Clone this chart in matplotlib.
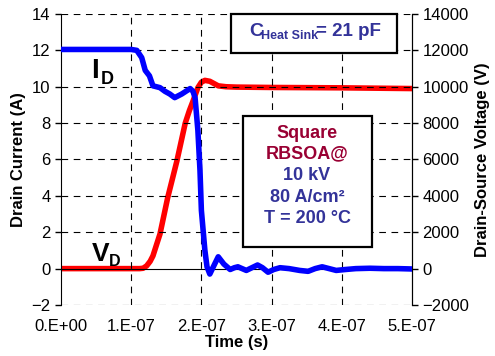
import matplotlib.pyplot as plt
from matplotlib.patches import Rectangle

plt.rcParams['font.family'] = ['Liberation Sans', 'DejaVu Sans']

# drain current I_D (A), left axis
t_id = [0, 0.5e-7, 1.0e-7, 1.08e-7, 1.15e-7, 1.20e-7, 1.26e-7, 1.31e-7, 1.41e-7,
        1.48e-7, 1.55e-7, 1.62e-7, 1.72e-7, 1.80e-7, 1.84e-7, 1.88e-7, 1.91e-7,
        1.95e-7, 1.98e-7, 2.00e-7, 2.05e-7, 2.08e-7, 2.12e-7, 2.17e-7, 2.24e-7, 2.32e-7,
        2.41e-7, 2.47e-7, 2.52e-7, 2.58e-7, 2.64e-7, 2.72e-7, 2.80e-7, 2.87e-7,
        2.95e-7, 3.03e-7, 3.12e-7, 3.25e-7, 3.40e-7, 3.52e-7, 3.62e-7, 3.72e-7,
        3.82e-7, 3.92e-7, 4.05e-7, 4.20e-7, 4.40e-7, 4.60e-7, 4.80e-7, 5.0e-7]
i_d = [12.05, 12.05, 12.05, 12.0, 11.6, 10.9, 10.6, 10.05, 9.95,
       9.75, 9.6, 9.4, 9.6, 9.8, 9.9, 9.75, 9.4,
       7.6, 5.4, 3.2, 1.0, 0.1, -0.3, 0.1, 0.65, 0.25,
       -0.05, 0.05, 0.1, 0.0, -0.1, 0.05, 0.2, 0.05,
       -0.2, -0.05, 0.05, 0.0, -0.1, -0.15, 0.0, 0.1,
       0.0, -0.1, -0.05, 0.0, 0.02, 0.0, 0.0, -0.02]

# drain-source voltage V_D (V), right axis
t_vd = [0, 0.5e-7, 1.0e-7, 1.12e-7, 1.17e-7, 1.22e-7, 1.27e-7, 1.31e-7, 1.41e-7,
        1.52e-7, 1.65e-7, 1.77e-7, 1.83e-7, 1.88e-7, 1.95e-7, 2.00e-7, 2.05e-7,
        2.12e-7, 2.24e-7, 2.35e-7, 2.50e-7, 3.0e-7, 3.5e-7, 4.0e-7, 4.5e-7, 5.0e-7]
v_d = [0, 0, 0, 0, 20, 150, 400, 700, 1900,
       3900, 5900, 8000, 8700, 9200, 9950, 10250, 10350,
       10300, 10050, 10000, 9980, 9960, 9950, 9940, 9920, 9900]

xticks = [0, 1e-7, 2e-7, 3e-7, 4e-7, 5e-7]
xlabels = ['0.E+00', '1.E-07', '2.E-07', '3.E-07', '4.E-07', '5.E-07']

fig = plt.figure(figsize=(4.95, 3.56), dpi=100)
ax = fig.add_axes([0.1232, 0.1433, 0.7091, 0.8174])
ax2 = ax.twinx()

ax.plot(t_id, i_d, color='#0000FF', linewidth=4, solid_capstyle='round',
        solid_joinstyle='round', zorder=4)
ax2.plot(t_vd, v_d, color='#FF0000', linewidth=4, solid_capstyle='round',
         solid_joinstyle='round', zorder=3)
ax.set_zorder(ax2.get_zorder() + 1)
ax.patch.set_visible(False)

ax.set_xlim(0, 5e-7)
ax.set_ylim(-2, 14)
ax2.set_ylim(-2000, 14000)
ax.set_yticks(range(-2, 15, 2))
ax2.set_yticks(range(-2000, 14001, 2000))
ax.set_xticks(xticks)
ax.set_xticklabels(xlabels)

for y in range(-2, 15, 2):
    if y != 0:
        ax.axhline(y, color='black', linestyle=(0, (6, 5)), linewidth=0.8, zorder=0)
ax.axhline(0, color='black', linewidth=0.8, zorder=0)
for x in xticks[1:-1]:
    ax.axvline(x, color='black', linestyle=(0, (6, 5)), linewidth=0.8, zorder=0)

for a in (ax, ax2):
    a.spines['top'].set_visible(False)
    a.spines['bottom'].set_visible(False)
    a.tick_params(labelsize=12, length=4, width=1)
ax.tick_params(axis='x', length=0, pad=10)
ax2.spines['left'].set_visible(False)

ax.set_ylabel('Drain Current (A)', fontsize=12, fontweight='bold')
ax2.set_ylabel('Drain-Source Voltage (V)', fontsize=12, fontweight='bold')
ax.set_xlabel('Time (s)', fontsize=12, fontweight='bold', labelpad=1)

fig.text(0.185, 0.80, 'I', fontsize=20, fontweight='bold', ha='left', va='center')
fig.text(0.203, 0.778, 'D', fontsize=13, fontweight='bold', ha='left', va='center')
fig.text(0.185, 0.286, 'V', fontsize=19, fontweight='bold', ha='left', va='center')
fig.text(0.219, 0.266, 'D', fontsize=11.5, fontweight='bold', ha='left', va='center')

blue = '#333399'
red = '#990033'

r1 = Rectangle((231 / 495, 1 - 53 / 356), 166 / 495, 39 / 356, transform=fig.transFigure,
               facecolor='white', edgecolor='black', linewidth=1.6, zorder=5)
fig.patches.append(r1)
fig.text(249 / 495, 1 - 32 / 356, 'C', fontsize=14, fontweight='bold', color=blue,
         va='center', zorder=6)
fig.text(261 / 495, 1 - 36 / 356, 'Heat Sink', fontsize=9, fontweight='bold', color=blue,
         va='center', zorder=6)
fig.text(316 / 495, 1 - 32 / 356, '= 21 pF', fontsize=13.5, fontweight='bold', color=blue,
         va='center', zorder=6)

r2 = Rectangle((243 / 495, 1 - 247 / 356), 129 / 495, 131 / 356, transform=fig.transFigure,
               facecolor='white', edgecolor='black', linewidth=1.6, zorder=5)
fig.patches.append(r2)
cx = 307 / 495
lines = [('Square', red, 133), ('RBSOA@', red, 154), ('10 kV', blue, 176),
         ('80 A/cm²', blue, 197), ('T = 200 °C', blue, 218)]
for txt, col, yp in lines:
    fig.text(cx, 1 - yp / 356, txt, fontsize=13, fontweight='bold', color=col,
             ha='center', va='center', zorder=6)

plt.savefig('out.png', dpi=100)
